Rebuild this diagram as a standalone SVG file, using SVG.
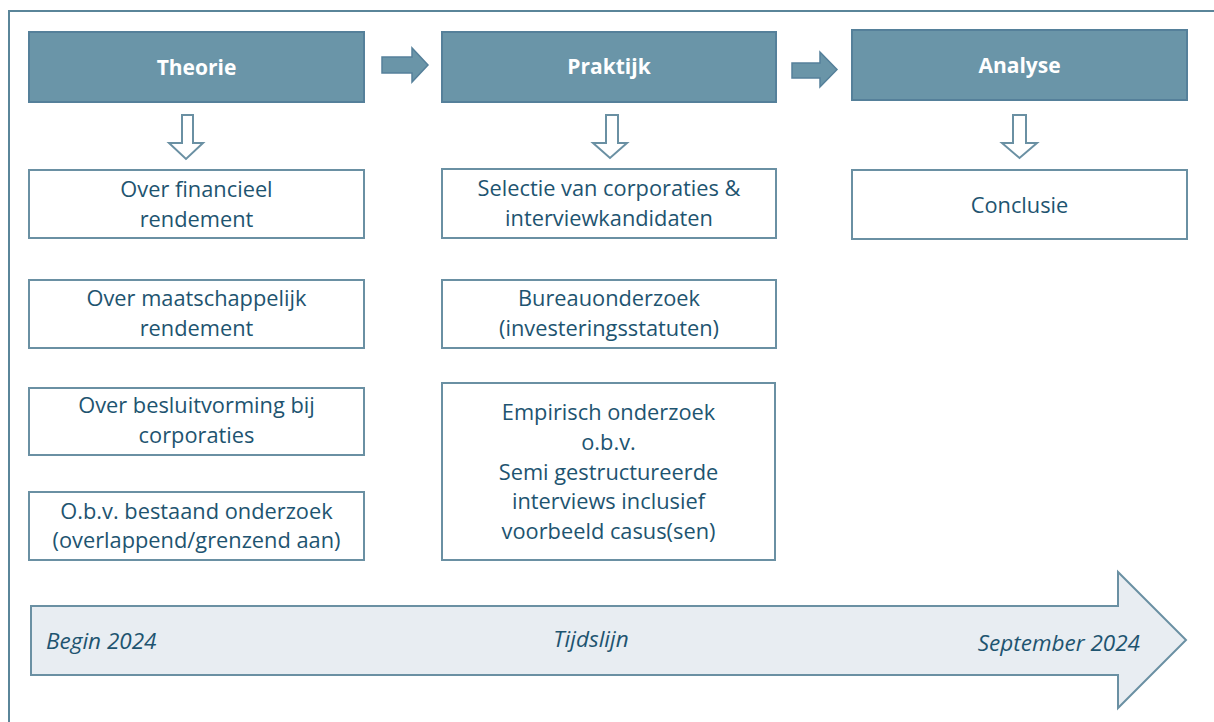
<svg xmlns="http://www.w3.org/2000/svg" width="1214" height="722" viewBox="0 0 1214 722">
  <style>
    .frame { fill: none; stroke: #5A8599; stroke-width: 2; }
    .head { fill: #6A95A8; stroke: #55809A; stroke-width: 2; }
    .box { fill: #FFFFFF; stroke: #6A90A3; stroke-width: 2; }
    .flow { fill: #6A95A8; stroke: #55809A; stroke-width: 1.5; }
    .down { fill: #FFFFFF; stroke: #6A90A3; stroke-width: 2; }
    .time { fill: #E8EDF2; stroke: #6A90A3; stroke-width: 2; }
    .ht { font-family: "Open Sans", Lato, "Liberation Sans", sans-serif; font-weight: bold; font-size: 21px; fill: #FFFFFF; text-anchor: middle; }
    .bt { font-family: "Open Sans", Lato, "Liberation Sans", sans-serif; font-size: 21.8px; fill: #1E5470; text-anchor: middle; }
    .tt { font-family: "Open Sans", Lato, "Liberation Sans", sans-serif; font-style: italic; font-size: 22.5px; fill: #1E5470; }
  </style>

  <!-- outer frame (only top and left edges fall inside the canvas) -->
  <rect class="frame" x="9" y="11" width="1240" height="740"/>

  <!-- connectors: flow arrows between phases and hollow arrows down to tasks -->
  <g id="connectors">
    <polygon class="flow" points="382,57 412,57 412,48 428,65 412,82 412,73 382,73"/>
    <polygon class="flow" points="792,63 820,63 820,52 837,69.5 820,87 820,78 792,78"/>
    <polygon class="down" points="182,115 193,115 193,143 203,143 186,159 169,143 182,143"/>
    <polygon class="down" points="606,115 618,115 618,143 627,143 610,158 593,143 606,143"/>
    <polygon class="down" points="1013,115 1026,115 1026,143 1037,143 1019.5,158 1002,143 1013,143"/>
  </g>

  <!-- phase headers -->
  <g id="theorie">
    <rect class="head" x="29" y="32" width="335" height="70"/>
    <text class="ht" x="196.5" y="75">Theorie</text>
  </g>
  <g id="praktijk">
    <rect class="head" x="442" y="32" width="334" height="70"/>
    <text class="ht" x="609" y="74">Praktijk</text>
  </g>
  <g id="analyse">
    <rect class="head" x="852" y="30" width="335" height="70"/>
    <text class="ht" x="1019.5" y="73">Analyse</text>
  </g>

  <!-- Theorie column -->
  <g id="financieel">
    <rect class="box" x="29" y="170" width="335" height="68"/>
    <text class="bt" x="196.5" y="197">Over financieel</text>
    <text class="bt" x="196.5" y="227">rendement</text>
  </g>
  <g id="maatschappelijk">
    <rect class="box" x="29" y="280" width="335" height="68"/>
    <text class="bt" x="196.5" y="306">Over maatschappelijk</text>
    <text class="bt" x="196.5" y="336">rendement</text>
  </g>
  <g id="besluitvorming">
    <rect class="box" x="29" y="388" width="335" height="67"/>
    <text class="bt" x="196.5" y="413">Over besluitvorming bij</text>
    <text class="bt" x="196.5" y="443">corporaties</text>
  </g>
  <g id="bestaand">
    <rect class="box" x="29" y="492" width="335" height="68"/>
    <text class="bt" x="196.5" y="519">O.b.v. bestaand onderzoek</text>
    <text class="bt" x="196.5" y="548">(overlappend/grenzend aan)</text>
  </g>

  <!-- Praktijk column -->
  <g id="selectie">
    <rect class="box" x="442" y="169" width="334" height="69"/>
    <text class="bt" x="609" y="196">Selectie van corporaties &amp;</text>
    <text class="bt" x="609" y="226">interviewkandidaten</text>
  </g>
  <g id="bureauonderzoek">
    <rect class="box" x="442" y="280" width="334" height="68"/>
    <text class="bt" x="609" y="306">Bureauonderzoek</text>
    <text class="bt" x="609" y="336">(investeringsstatuten)</text>
  </g>
  <g id="empirisch">
    <rect class="box" x="442" y="383" width="333" height="177"/>
    <text class="bt" x="608.5" y="420">Empirisch onderzoek</text>
    <text class="bt" x="608.5" y="450">o.b.v.</text>
    <text class="bt" x="608.5" y="480">Semi gestructureerde</text>
    <text class="bt" x="608.5" y="509">interviews inclusief</text>
    <text class="bt" x="608.5" y="539">voorbeeld casus(sen)</text>
  </g>

  <!-- Analyse column -->
  <g id="conclusie">
    <rect class="box" x="852" y="170" width="335" height="69"/>
    <text class="bt" x="1019.5" y="213">Conclusie</text>
  </g>

  <!-- timeline -->
  <g id="tijdslijn">
    <polygon class="time" points="31,606 1118,606 1118,572 1186,640 1118,708 1118,675 31,675"/>
    <text class="tt" x="46" y="649">Begin 2024</text>
    <text class="tt" x="591" y="647" text-anchor="middle">Tijdslijn</text>
    <text class="tt" x="1140" y="651" text-anchor="end">September 2024</text>
  </g>
</svg>
